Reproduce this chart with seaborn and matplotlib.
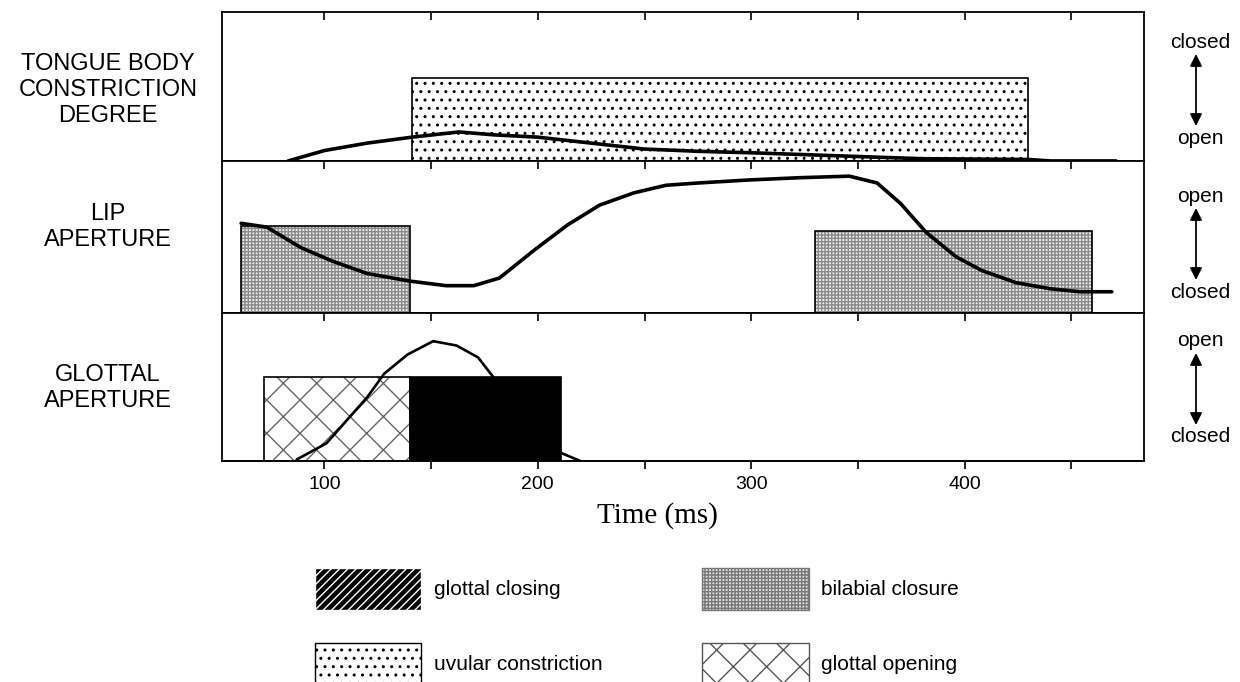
import matplotlib
matplotlib.use("Agg")
import matplotlib.pyplot as plt
from matplotlib.patches import Patch
import seaborn as sns

# articulator trajectories (ms, fraction of panel height)
tongue_t = [83, 100, 120, 141, 163, 180, 200, 225, 250, 275, 300, 350, 380, 430, 440, 471]
tongue_y = [0.0, 0.07, 0.12, 0.16, 0.195, 0.175, 0.16, 0.12, 0.08, 0.065, 0.055, 0.03, 0.015, 0.01, 0.0, 0.0]

lip_t = [61, 73, 89, 104, 120, 140, 157, 170, 182, 198, 214, 229, 245, 260, 275,
         299, 323, 346, 359, 370, 382, 396, 408, 424, 440, 454, 469]
lip_y = [0.59, 0.565, 0.43, 0.34, 0.26, 0.21, 0.18, 0.18, 0.23, 0.41, 0.58, 0.71, 0.79, 0.84, 0.855,
         0.875, 0.89, 0.90, 0.855, 0.72, 0.53, 0.37, 0.28, 0.20, 0.16, 0.14, 0.14]

glottal_t = [87, 101, 112, 120, 128, 139, 151, 162, 172, 179, 190, 200, 210, 220]
glottal_y = [0.01, 0.12, 0.30, 0.43, 0.59, 0.72, 0.81, 0.78, 0.70, 0.57, 0.40, 0.22, 0.06, 0.0]

# gesture activation intervals (start ms, end ms, height)
uvular = [(141, 429.5, 0.56)]
bilabial = [(61, 140, 0.57), (330, 459.5, 0.54)]
glottal_open = [(71.5, 140, 0.57)]
glottal_close = [(140, 211, 0.57)]

panel_labels = ["TONGUE BODY\nCONSTRICTION\nDEGREE", "LIP\nAPERTURE", "GLOTTAL\nAPERTURE"]
scale_labels = [("closed", "open"), ("open", "closed"), ("open", "closed")]
tick_vals = [100, 150, 200, 250, 300, 350, 400, 450]
tick_text = ["100", "", "200", "", "300", "", "400", ""]

sns.set_style("white")
plt.rcParams["font.family"] = ["Liberation Sans", "DejaVu Sans"]
plt.rcParams["text.color"] = "black"
plt.rcParams["xtick.color"] = "black"
plt.rcParams["xtick.labelcolor"] = "black"

fig = plt.figure(figsize=(12.4, 6.82), dpi=100)
ax1 = fig.add_axes([0.179, 0.764, 0.7435, 0.218])
ax2 = fig.add_axes([0.179, 0.541, 0.7435, 0.223])
ax3 = fig.add_axes([0.179, 0.324, 0.7435, 0.217])
axes = [ax1, ax2, ax3]


def draw_spans(ax, spans, **kw):
    for s, e, h in spans:
        ax.bar(s, h, width=e - s, align="edge", zorder=2, **kw)


draw_spans(ax1, uvular, facecolor="white", edgecolor="black", hatch="..", linewidth=1.2)
draw_spans(ax2, bilabial, facecolor="#ececec", edgecolor="#8a8a8a", hatch="+++++", linewidth=0)
draw_spans(ax2, bilabial, fill=False, edgecolor="black", linewidth=1.2)
draw_spans(ax3, glottal_open, facecolor="white", edgecolor="#666666", hatch="x", linewidth=0)
draw_spans(ax3, glottal_open, fill=False, edgecolor="black", linewidth=1.2)
draw_spans(ax3, glottal_close, facecolor="black", edgecolor="black", linewidth=1.2)

sns.lineplot(x=tongue_t, y=tongue_y, ax=ax1, color="black", lw=2.6, zorder=3)
sns.lineplot(x=lip_t, y=lip_y, ax=ax2, color="black", lw=2.6, zorder=3)
sns.lineplot(x=glottal_t, y=glottal_y, ax=ax3, color="black", lw=1.9, zorder=3)

for ax, lab in zip(axes, panel_labels):
    ax.set_xlim(52, 484)
    ax.set_ylim(0, 1)
    ax.set_yticks([])
    ax.set_xticks(tick_vals)
    ax.tick_params(axis="x", direction="in", top=True, bottom=False,
                   labelbottom=False, length=6, width=1.2)
    ax.set_xlabel("")
    ax.set_ylabel("")
    for sp in ax.spines.values():
        sp.set_color("black")
        sp.set_linewidth(1.3)

sec = ax3.secondary_xaxis("bottom")
sec.set_xticks(tick_vals, labels=tick_text)
sec.tick_params(direction="out", length=6, width=1.2, labelsize=14, pad=5)
sec.spines["bottom"].set_linewidth(1.3)

# panel names on the left
for lab, yc in zip(panel_labels, [90, 227, 388]):
    fig.text(108 / 1240, 1 - yc / 682, lab, ha="center", va="center",
             fontsize=17, linespacing=1.25)

# open/closed scales on the right
for (top_lab, bot_lab), yt in zip(scale_labels, [42, 196, 341]):
    fig.text(1200 / 1240, 1 - yt / 682, top_lab, ha="center", va="center", fontsize=15)
    fig.text(1200 / 1240, 1 - (yt + 96) / 682, bot_lab, ha="center", va="center", fontsize=15)
    fig.add_artist(plt.Annotation(
        "", xy=(1196 / 1240, 1 - (yt + 12) / 682), xytext=(1196 / 1240, 1 - (yt + 84) / 682),
        xycoords="figure fraction", textcoords="figure fraction",
        arrowprops=dict(arrowstyle="<|-|>", color="black", lw=1.3, mutation_scale=18,
                        shrinkA=0, shrinkB=0)))

fig.text(657 / 1240, 1 - 516 / 682, "Time (ms)", ha="center", va="center",
         fontsize=21, family=["Liberation Serif", "DejaVu Serif"])

handles = [
    Patch(facecolor="black", edgecolor="white", hatch="////", label="glottal closing"),
    Patch(facecolor="white", edgecolor="black", hatch="..", label="uvular constriction"),
    Patch(facecolor="#e0e0e0", edgecolor="#777777", hatch="+++++", label="bilabial closure"),
    Patch(facecolor="white", edgecolor="#555555", hatch="x", label="glottal opening"),
]
fig.legend(handles=handles, ncol=2, loc="upper left",
           bbox_to_anchor=(315 / 1240, 1 - 568 / 682), frameon=False,
           fontsize=15, handlelength=5.1, handleheight=2.7, handletextpad=0.6,
           columnspacing=4.8, labelspacing=1.6, borderpad=0, borderaxespad=0)

fig.savefig("out.png", dpi=100)
